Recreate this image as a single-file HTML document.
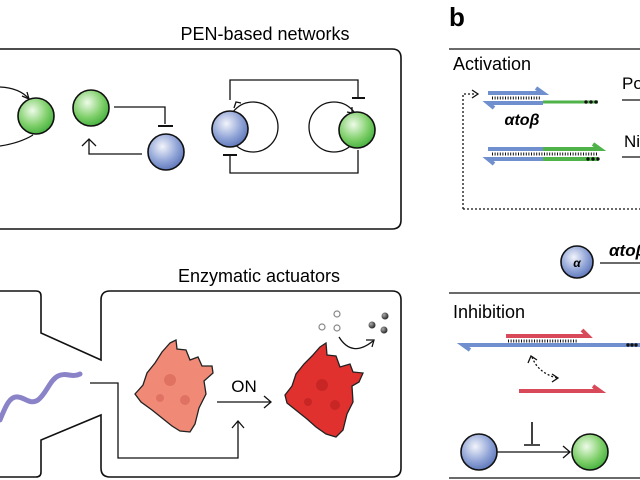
<!DOCTYPE html>
<html><head><meta charset="utf-8"><style>
html,body{margin:0;padding:0;background:#fff;width:640px;height:480px;overflow:hidden}
svg{display:block}
text{font-family:"Liberation Sans",sans-serif}
</style></head><body>
<svg width="640" height="480" viewBox="0 0 640 480" xmlns="http://www.w3.org/2000/svg">
<defs>
<radialGradient id="g" cx="0.4" cy="0.35" r="0.7"><stop offset="0" stop-color="#eefbe8"/><stop offset="0.6" stop-color="#7fcf6a"/><stop offset="1" stop-color="#3fae3a"/></radialGradient>
<radialGradient id="b" cx="0.4" cy="0.35" r="0.7"><stop offset="0" stop-color="#f2f4fb"/><stop offset="0.6" stop-color="#8fa3d6"/><stop offset="1" stop-color="#5a73b8"/></radialGradient>
<radialGradient id="dk" cx="0.35" cy="0.35" r="0.7"><stop offset="0" stop-color="#aaa"/><stop offset="1" stop-color="#222"/></radialGradient>
</defs>
<g fill="none" stroke="#111" stroke-width="1.3">
<path d="M0 49 H392 Q401 49 401 58 V220 Q401 229 392 229 H0" stroke-width="1.6"/>
<path d="M0 87 Q20 88 29 99"/>
<path d="M22 96 L29 99 L27 92"/>
<path d="M33 135 Q20 143 0 146"/>
<path d="M114 107 H165 V124"/><path d="M158 126 H173" stroke-width="2"/>
<path d="M142 154 H89 V140"/><path d="M82 146 L89 139 L96 146"/>
<path d="M230 100 V80 H358 V97"/><path d="M352 98 H365" stroke-width="2"/>
<path d="M230 154 V173 H358 V150"/><path d="M223 155 H237" stroke-width="2"/>
<circle cx="253" cy="127" r="25"/><circle cx="334" cy="127" r="25"/>
<path d="M234 108 L236 102 L241 103"/>
<path d="M352 107 L352 113 L347 112"/>
<path d="M0 291 H36 Q41 291 41 296 V333 L101 360 V300 Q101 291 110 291 H392 Q401 291 401 300 V468 Q401 477 392 477 H110 Q101 477 101 468 V415 L41 440 V472 Q41 477 36 477 H0" stroke-width="1.6"/>
<path d="M90 383 H118 V458 H238 V422"/><path d="M232 428 L238 421 L244 428"/>
<path d="M217 402 H270"/><path d="M264 396 L271 402 L264 408"/>
<path d="M339 337 Q352 358 373 341"/><path d="M366 340 L374 340 L372 347"/>
<path d="M449 49 H640 M449 293 H640 M449 478 H640"/>
<path d="M463 209 V94 H474 M463 209 H640" stroke-dasharray="2,2"/>
<path d="M472 90 L478 94 L472 98"/>
<path d="M622 100 H640 M622 157 H640 M600 263 H640"/>
<path d="M532 422 V444 M524 445 H540" stroke-width="1.6"/>
<path d="M497 452 H569"/><path d="M563 446 L570 452 L563 458"/>
<path d="M532 357 Q538 373 557 378" stroke-dasharray="2,2"/>
<path d="M528 363 L531 356 L537 360 M552 374 L558 378 L552 382"/>
</g>
<g stroke="#111" stroke-width="1.6">
<circle cx="36" cy="116" r="18" fill="url(#g)"/>
<circle cx="91" cy="108" r="18" fill="url(#g)"/>
<circle cx="166" cy="152" r="18" fill="url(#b)"/>
<circle cx="230" cy="129" r="18" fill="url(#b)"/>
<circle cx="357" cy="130" r="18" fill="url(#g)"/>
<circle cx="577" cy="262" r="16" fill="url(#b)"/>
<circle cx="479" cy="452" r="18" fill="url(#b)"/>
<circle cx="590" cy="452" r="18" fill="url(#g)"/>
</g>
<text x="265" y="40" font-size="18" text-anchor="middle">PEN-based networks</text>
<text x="259" y="282" font-size="18" text-anchor="middle">Enzymatic actuators</text>
<text x="244" y="392" font-size="17" text-anchor="middle">ON</text>
<path d="M0 420 C6 405 10 396 18 397 C26 398 30 405 38 400 C46 394 50 380 58 376 C66 372 72 378 80 374" fill="none" stroke="#8a83c8" stroke-width="5" stroke-linecap="round"/>
<path d="M170 343 L176 340 L177 349 L186 350 L190 360 L198 357 L202 366 L212 366 L213 373 L204 381 L206 394 L199 408 L195 424 L190 432 L180 431 L172 426 L162 418 L152 410 L141 402 L135 394 L143 385 L147 373 L155 363 L162 352 Z" fill="#f08a76" stroke="#222" stroke-width="1.3"/>
<g fill="#d9685a" opacity="0.7"><circle cx="170" cy="380" r="6"/><circle cx="185" cy="400" r="5"/><circle cx="160" cy="398" r="4"/></g>
<path d="M320 347 L326 343 L327 355 L336 356 L340 367 L350 364 L353 372 L363 373 L359 382 L352 386 L353 402 L347 414 L343 430 L336 437 L326 434 L316 427 L307 419 L297 411 L287 403 L285 395 L292 386 L296 374 L304 364 L312 356 Z" fill="#e0312f" stroke="#222" stroke-width="1.3"/>
<g fill="#b8201f" opacity="0.6"><circle cx="322" cy="385" r="6"/><circle cx="335" cy="405" r="5"/><circle cx="308" cy="402" r="4"/></g>
<g fill="#fff" stroke="#888" stroke-width="1.2">
<circle cx="337" cy="314" r="3"/><circle cx="322" cy="327" r="3"/><circle cx="337" cy="328" r="3"/>
</g>
<g fill="url(#dk)"><circle cx="372" cy="325" r="3.5"/><circle cx="385" cy="316" r="3.5"/><circle cx="384" cy="330" r="3.5"/></g>
<text x="449" y="26" font-size="26" font-weight="bold">b</text>
<text x="453" y="70" font-size="18">Activation</text>
<text x="453" y="318" font-size="18">Inhibition</text>
<text x="622" y="89" font-size="17">Po</text>
<text x="624" y="147" font-size="17">Ni</text>
<text x="522" y="125" font-size="16" font-weight="bold" font-style="italic" text-anchor="middle" font-family="Liberation Serif,serif">αtoβ</text>
<text x="609" y="256" font-size="17" font-weight="bold" font-style="italic" font-family="Liberation Serif,serif">αtoβ</text>
<text x="577" y="267" font-size="12" font-weight="bold" font-style="italic" text-anchor="middle">α</text>
<g stroke-width="4" fill="none">
<path d="M488 93 H543 L536 88" stroke="#6f8fcf"/>
<path d="M543 103 H488 L494 108" stroke="#6f8fcf"/>
<path d="M543 102 H598" stroke="#4fb34a" stroke-width="3"/>
<path d="M488 149 H543" stroke="#6f8fcf"/>
<path d="M543 159 H488 L494 164" stroke="#6f8fcf"/>
<path d="M543 149 H600 L593 144" stroke="#4fb34a"/>
<path d="M543 159 H598" stroke="#4fb34a"/>
<path d="M640 345 H463 L470 350" stroke="#6f8fcf"/>
<path d="M506 336 H588 L582 330" stroke="#d84a5a"/>
<path d="M519 391 H600 L593 386" stroke="#d84a5a"/>
</g>
<g stroke="#111" stroke-width="3" stroke-dasharray="1,1.6">
<path d="M492 98 H540 M492 154 H598 M508 341 H577"/>
</g>
<g fill="#111"><circle cx="586" cy="102" r="1.7"/><circle cx="591" cy="102" r="1.7"/><circle cx="596" cy="102" r="1.7"/>
<circle cx="588" cy="159" r="1.7"/><circle cx="593" cy="159" r="1.7"/><circle cx="598" cy="159" r="1.7"/>
<circle cx="628" cy="345" r="1.7"/><circle cx="632" cy="345" r="1.7"/><circle cx="636" cy="345" r="1.7"/></g>
</svg>
</body></html>
